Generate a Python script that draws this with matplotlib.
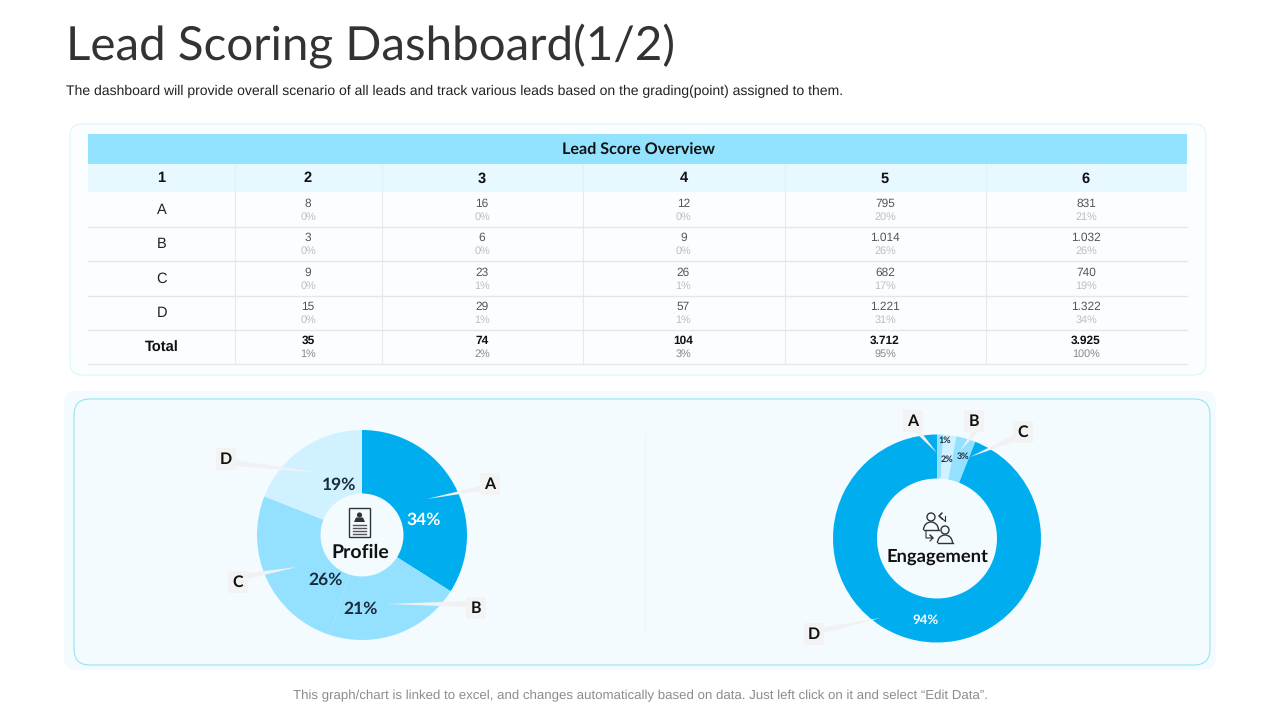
import matplotlib
matplotlib.use("Agg")
import matplotlib.pyplot as plt
from matplotlib.patches import FancyBboxPatch, Rectangle, Polygon, Circle, Arc

plt.rcParams["font.family"] = ["Liberation Sans", "DejaVu Sans"]
plt.rcParams["text.hinting"] = "no_hinting"

# =========================
# Data
# =========================

title = "Lead Scoring Dashboard(1/2)"
subtitle = ("The dashboard will provide overall scenario of all leads and track "
            "various leads based on the grading(point) assigned to them.")
footer = ("This graph/chart is linked to excel, and changes automatically based "
          "on data. Just left click on it and select \u201cEdit Data\u201d.")

table_title = "Lead Score Overview"
col_headers = ["1", "2", "3", "4", "5", "6"]
row_labels = ["A", "B", "C", "D", "Total"]
col_2 = ["8", "3", "9", "15", "35"]
col_3 = ["16", "6", "23", "29", "74"]
col_4 = ["12", "9", "26", "57", "104"]
col_5 = ["795", "1.014", "682", "1.221", "3.712"]
col_6 = ["831", "1.032", "740", "1.322", "3.925"]
pct_2 = ["0%", "0%", "0%", "0%", "1%"]
pct_3 = ["0%", "0%", "1%", "1%", "2%"]
pct_4 = ["0%", "0%", "1%", "1%", "3%"]
pct_5 = ["20%", "26%", "17%", "31%", "95%"]
pct_6 = ["21%", "26%", "19%", "34%", "100%"]

profile_values = [34, 21, 26, 19]
engagement_values = [1, 2, 3, 94]

DARK = "#00AEEF"
MID = "#93E1FF"
LIGHT = "#D0F1FF"
HEAD = "#E8F8FF"
INK = "#1A2B3C"
GEO = "Lato"

W, H = 1280, 720
fig = plt.figure(figsize=(12.8, 7.2), dpi=100, facecolor="white")


def pixel_axes(zorder):
    ax = fig.add_axes([0, 0, 1, 1], zorder=zorder)
    ax.set_xlim(0, W)
    ax.set_ylim(H, 0)
    ax.axis("off")
    ax.patch.set_alpha(0)
    return ax


def rounded(ax, x0, y0, x1, y1, r, fc, ec, lw=1.0):
    ax.add_patch(FancyBboxPatch((x0 + r, y0 + r), x1 - x0 - 2 * r, y1 - y0 - 2 * r,
                                boxstyle=f"round,pad={r},rounding_size={r}",
                                fc=fc, ec=ec, lw=lw))


def donut(values, colors, cx, cy, radius, hole):
    ax = fig.add_axes([(cx - radius) / W, 1 - (cy + radius) / H,
                       2 * radius / W, 2 * radius / H], zorder=1)
    ax.pie(values, colors=colors, startangle=90, counterclock=False, radius=1,
           wedgeprops={"width": 1 - hole / radius, "linewidth": 0})
    ax.set_xlim(-1, 1)
    ax.set_ylim(-1, 1)


def callout(ax, label, lx, ly, tip, base_a, base_b):
    ax.add_patch(Polygon([tip, base_a, base_b], closed=True, fc="#F1F1F3", ec="none"))
    ax.add_patch(Rectangle((lx - 10, ly - 11), 20, 22, fc="#F3F3F4", ec="none"))
    ax.text(lx, ly + 0.5, label, ha="center", va="center", fontsize=11.5, color="#111111",
            family=GEO, weight="bold")


# =========================
# Background and panels
# =========================

bg = pixel_axes(0)
rounded(bg, 70, 124, 1206, 375, 12, "#FBFEFF", "#DDF6FB", 0.8)
rounded(bg, 64, 391, 1216, 670, 12, "#F4FBFF", "none", 0)
rounded(bg, 74, 399, 1210, 665, 16, "#F4FBFF", "#97E4F4", 0.8)
bg.plot([645, 645], [435, 630], color="#EEF4F7", lw=0.8)

bg.text(66, 46, title, fontsize=34.2, color="#333333", family=GEO, weight="normal",
        ha="left", va="center")
bg.text(66, 91, subtitle, fontsize=10.1, color="#222222", ha="left", va="center")
bg.text(640, 695.5, footer, fontsize=9.55, color="#8C8C8C", ha="center", va="center")

# =========================
# Table
# =========================

col_edges = [88, 235, 382, 583, 785, 986, 1187]
row_edges = [192, 227, 261, 296, 330, 364]
value_cols = [col_2, col_3, col_4, col_5, col_6]
pct_cols = [pct_2, pct_3, pct_4, pct_5, pct_6]

bg.add_patch(Rectangle((88, 134), 1099, 30, fc="#93E3FF", ec="none"))
bg.add_patch(Rectangle((88, 164), 1099, 28, fc=HEAD, ec="none"))
bg.text(638, 150, table_title, fontsize=11.6, color="#111111", family=GEO, weight="bold",
        ha="center", va="center")

for x in col_edges[1:-1]:
    bg.plot([x, x], [164, 192], color="#DDF2FA", lw=0.8)
    bg.plot([x, x], [192, 364], color="#E6E9ED", lw=0.8)
for y in row_edges[1:]:
    bg.plot([88, 1187], [y, y], color="#E3E6EA", lw=1.0)

for i, head in enumerate(col_headers):
    bg.text((col_edges[i] + col_edges[i + 1]) / 2 - 0.5, 178.5, head, fontsize=10.5, weight="bold",
            color="#111111", ha="center", va="center")

for r, label in enumerate(row_labels):
    top, bottom = row_edges[r], row_edges[r + 1]
    mid = (top + bottom) / 2
    is_total = label == "Total"
    bg.text(162, mid + 0.5, label, fontsize=10.5, color="#222222" if not is_total else "#111111",
            weight="bold" if is_total else "normal", ha="center", va="center")
    for c in range(5):
        cx = (col_edges[c + 1] + col_edges[c + 2]) / 2 - 0.5
        bg.text(cx, mid - 6, value_cols[c][r], fontsize=8.6,
                color="#111111" if is_total else "#555555",
                weight="bold" if is_total else "normal", ha="center", va="center")
        bg.text(cx, mid + 7.5, pct_cols[c][r], fontsize=7.8,
                color="#888888" if is_total else "#BDBDBD", ha="center", va="center")

# =========================
# Donuts
# =========================

donut(profile_values, [DARK, MID, MID, LIGHT], 362, 535, 105, 41.5)
donut(engagement_values, [MID, LIGHT, MID, DARK], 937, 538.5, 104, 60)

top = pixel_axes(2)

callout(top, "A", 490, 484, (427, 499), (480, 486), (480, 491))
callout(top, "B", 476, 608, (387, 604), (467, 601), (467, 607))
callout(top, "C", 238, 582, (297, 567), (248, 573), (248, 579))
callout(top, "D", 226, 459, (322, 473), (235, 460), (235, 466))
callout(top, "A", 913, 421, (937, 453), (915, 432), (921, 432))
callout(top, "B", 974, 421, (960, 451), (972, 432), (978, 432))
callout(top, "C", 1023, 432, (970, 457), (1014, 435), (1016, 441))
callout(top, "D", 814, 634, (880, 618), (824, 627), (824, 633))

for value, x, y, col in zip(profile_values, [424, 361, 326, 339], [520, 608.5, 580, 484.5],
                            ["white", INK, INK, INK]):
    top.text(x, y, f"{value}%", fontsize=12.5, color=col, family=GEO, weight="bold",
             ha="center", va="center")
for value, x, y, col, size in zip(engagement_values, [945, 947, 963, 926], [440.5, 459.5, 456.5, 620],
                                  [INK, INK, INK, "white"], [6.5, 6.5, 6.5, 9.5]):
    top.text(x, y, f"{value}%", fontsize=size, color=col, family=GEO, weight="bold",
             ha="center", va="center")

top.text(360, 552.5, "Profile", fontsize=14, color="#111111", family=GEO, weight="bold",
         ha="center", va="center")
top.text(937, 557, "Engagement", fontsize=13.2, color="#111111", family=GEO, weight="bold",
         ha="center", va="center")

# Profile icon
top.add_patch(Rectangle((349, 508), 21, 29, fc="none", ec="#333333", lw=1))
top.add_patch(Circle((359.5, 515), 2.6, fc="#333333", ec="none"))
top.add_patch(Polygon([(354, 522), (365, 522), (363, 517.5), (356, 517.5)], fc="#333333", ec="none"))
for y in [525, 528, 531, 534]:
    top.plot([353, 366], [y, y], color="#555555", lw=1)

# Engagement icon: two people and two arrows
for cx, cy in [(931, 517), (945, 530)]:
    top.add_patch(Circle((cx, cy), 4, fc="none", ec="#333333", lw=1))
    top.add_patch(Arc((cx, cy + 13), 15, 16, theta1=180, theta2=360, ec="#333333", lw=1))
    top.plot([cx - 7.5, cx + 7.5], [cy + 13, cy + 13], color="#333333", lw=1)
top.plot([945, 939, 942, 939, 942], [521, 516, 513, 516, 519], color="#333333", lw=0.8)
top.plot([945, 945], [516, 521], color="#333333", lw=0.8)
top.plot([926, 926, 933, 930, 933, 930], [531, 538, 538, 535, 538, 541], color="#333333", lw=0.8)

fig.savefig("out.png", dpi=100)
